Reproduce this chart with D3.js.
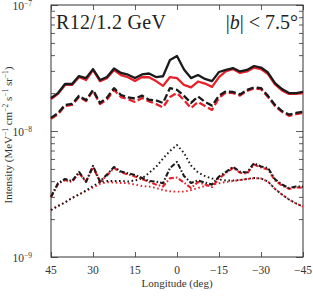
<!DOCTYPE html>
<html>
<head>
<meta charset="utf-8">
<script src="https://cdn.jsdelivr.net/npm/d3@7"></script>
<style>
  body { margin: 0; background: #fff; }
  svg { display: block; font-family: "Liberation Serif", "DejaVu Serif", serif; }
</style>
</head>
<body>
<svg id="chart" width="313" height="297"></svg>
<script>
// longitudes (deg), 2.5 deg steps from 45 to -45
const longitudes = d3.range(0, 37).map(i => 45 - i * 2.5);

// intensities in units of 1e-9 MeV^-1 cm^-2 s^-1 sr^-1
const solidBlack = [18.3, 20.0, 23.6, 23.6, 27.3, 26.3, 31.0, 25.4, 26.8, 31.3, 28.9, 28.0, 26.3, 28.1, 28.6, 26.8, 27.2, 36.6, 39.4, 30.8, 26.3, 27.8, 25.9, 24.9, 29.4, 30.6, 31.6, 29.7, 30.5, 32.8, 31.9, 29.1, 24.0, 21.5, 20.0, 20.0, 20.4];
const solidRed = [17.9, 19.7, 23.2, 23.2, 26.8, 25.4, 30.5, 24.9, 26.3, 30.5, 27.8, 26.7, 24.9, 26.8, 26.7, 24.9, 22.8, 26.8, 26.3, 23.2, 22.2, 24.7, 23.8, 22.4, 26.8, 29.9, 31.0, 28.9, 29.7, 31.9, 31.0, 28.3, 23.4, 21.0, 19.7, 19.7, 20.0];
const dashedBlack = [12.7, 13.9, 16.1, 16.4, 19.0, 17.6, 21.2, 16.7, 18.4, 21.9, 19.3, 18.5, 18.1, 19.1, 17.7, 17.5, 16.7, 21.9, 21.2, 19.0, 16.7, 18.8, 17.0, 15.9, 19.1, 20.7, 20.4, 19.5, 21.2, 22.2, 21.9, 19.0, 16.1, 14.4, 13.5, 13.9, 14.2];
const dashedRed = [12.5, 13.6, 15.8, 16.1, 18.6, 17.3, 20.8, 16.4, 17.8, 21.2, 18.6, 17.9, 17.0, 18.3, 17.2, 16.4, 15.4, 18.6, 20.0, 17.6, 15.2, 17.0, 15.8, 14.7, 18.3, 20.2, 20.0, 19.1, 20.8, 21.7, 21.5, 18.6, 15.8, 14.2, 13.2, 13.6, 13.9];
const dashDotBlack = [3.01, 3.85, 4.16, 4.01, 4.73, 3.97, 5.28, 3.97, 4.52, 5.18, 4.77, 4.61, 4.48, 4.24, 4.01, 3.96, 3.85, 5.09, 5.68, 4.39, 3.87, 4.05, 3.90, 3.76, 4.35, 4.73, 5.18, 4.75, 4.69, 5.54, 5.23, 5.09, 4.14, 3.76, 3.53, 3.63, 3.62];
const dashDotRed = [2.99, 3.80, 4.08, 3.94, 4.64, 3.94, 5.18, 3.94, 4.44, 5.09, 4.69, 4.52, 4.35, 4.16, 3.94, 3.76, 3.63, 4.22, 4.27, 3.90, 3.53, 3.94, 3.76, 3.59, 4.20, 4.64, 5.09, 4.67, 4.60, 5.42, 5.13, 4.95, 4.05, 3.69, 3.47, 3.56, 3.55];
const dottedBlack = [2.36, 2.54, 2.71, 2.94, 3.13, 3.37, 3.66, 3.94, 4.01, 4.01, 4.01, 3.97, 4.05, 4.20, 4.64, 5.18, 6.05, 6.94, 7.74, 6.69, 5.32, 4.69, 4.39, 4.20, 4.12, 4.05, 4.05, 4.08, 4.16, 4.24, 4.20, 3.97, 3.47, 3.13, 2.86, 2.66, 2.51];
const dottedRed = [2.36, 2.54, 2.71, 2.94, 3.13, 3.34, 3.56, 3.80, 3.92, 3.90, 3.87, 3.85, 3.76, 3.66, 3.62, 3.53, 3.40, 3.32, 3.30, 3.30, 3.40, 3.53, 3.66, 3.76, 3.85, 3.94, 4.01, 4.08, 4.16, 4.22, 4.20, 3.97, 3.47, 3.13, 2.86, 2.66, 2.51];

const xTicks = [45, 30, 15, 0, -15, -30, -45];
const yTicks = [1e-9, 1e-8, 1e-7];
const yTickExp = ["−9", "−8", "−7"];

const svg = d3.select("#chart");
const plotLeft = 51, plotRight = 303, plotTop = 5, plotBottom = 257;

const x = d3.scaleLinear().domain([45, -45]).range([plotLeft, plotRight]);
const y = d3.scaleLog().domain([1e-9, 1e-7]).range([plotBottom, plotTop]);

// minor ticks for log axis
let minor = [];
[1e-9, 1e-8].forEach(d => { for (let k = 2; k <= 9; k++) minor.push(d * k); });

const frame = svg.append("g");

// y axes (left and right), ticks inward
frame.append("g")
    .attr("transform", `translate(${plotLeft},0)`)
    .call(d3.axisRight(y).tickValues(yTicks).tickSize(7).tickFormat(""))
    .call(g => g.select(".domain").remove());
frame.append("g")
    .attr("transform", `translate(${plotLeft},0)`)
    .call(d3.axisRight(y).tickValues(minor).tickSize(4).tickFormat(""))
    .call(g => g.select(".domain").remove());
frame.append("g")
    .attr("transform", `translate(${plotRight},0)`)
    .call(d3.axisLeft(y).tickValues(yTicks).tickSize(7).tickFormat(""))
    .call(g => g.select(".domain").remove());
frame.append("g")
    .attr("transform", `translate(${plotRight},0)`)
    .call(d3.axisLeft(y).tickValues(minor).tickSize(4).tickFormat(""))
    .call(g => g.select(".domain").remove());

// x axes (bottom and top), ticks inward
frame.append("g")
    .attr("transform", `translate(0,${plotBottom})`)
    .call(d3.axisTop(x).tickValues(xTicks).tickSize(5).tickFormat(""))
    .call(g => g.select(".domain").remove());
frame.append("g")
    .attr("transform", `translate(0,${plotTop})`)
    .call(d3.axisBottom(x).tickValues(xTicks).tickSize(5).tickFormat(""))
    .call(g => g.select(".domain").remove());

frame.selectAll("line").attr("stroke", "#333").attr("stroke-width", 0.8);

frame.append("rect")
    .attr("x", plotLeft).attr("y", plotTop)
    .attr("width", plotRight - plotLeft).attr("height", plotBottom - plotTop)
    .attr("fill", "none").attr("stroke", "#333").attr("stroke-width", 1);

// tick labels
svg.append("g").selectAll("text")
    .data(xTicks)
    .enter()
    .append("text")
    .attr("x", d => x(d))
    .attr("y", plotBottom + 17)
    .attr("text-anchor", "middle")
    .attr("font-size", 11.5)
    .attr("fill", "#333")
    .text(d => d < 0 ? "−" + Math.abs(d) : d);

let yl = svg.append("g").selectAll("text")
    .data(yTicks)
    .enter()
    .append("text")
    .attr("x", plotLeft - 19)
    .attr("y", d => y(d) + 5)
    .attr("text-anchor", "end")
    .attr("font-size", 11.5)
    .attr("fill", "#333");
yl.append("tspan").text("10");
yl.append("tspan").attr("dy", -4).attr("font-size", 7.5).text((d, i) => yTickExp[i]);

// axis titles
svg.append("text")
    .attr("x", (plotLeft + plotRight) / 2)
    .attr("y", 287)
    .attr("text-anchor", "middle")
    .attr("font-size", 11)
    .attr("fill", "#333")
    .text("Longitude (deg)");

let ylab = svg.append("text")
    .attr("transform", `translate(12,${(plotTop + plotBottom) / 2 + 4}) rotate(-90)`)
    .attr("text-anchor", "middle")
    .attr("font-size", 11)
    .attr("fill", "#333");
ylab.append("tspan").text("Intensity (MeV");
ylab.append("tspan").attr("dy", -4).attr("font-size", 7.5).text("−1");
ylab.append("tspan").attr("dy", 4).text(" cm");
ylab.append("tspan").attr("dy", -4).attr("font-size", 7.5).text("−2");
ylab.append("tspan").attr("dy", 4).text(" s");
ylab.append("tspan").attr("dy", -4).attr("font-size", 7.5).text("−1");
ylab.append("tspan").attr("dy", 4).text(" sr");
ylab.append("tspan").attr("dy", -4).attr("font-size", 7.5).text("−1");
ylab.append("tspan").attr("dy", 4).text(")");

// annotations
svg.append("text")
    .attr("x", plotLeft + 5)
    .attr("y", 29)
    .attr("font-size", 20)
    .attr("fill", "#222")
    .attr("textLength", 110)
    .attr("lengthAdjust", "spacing")
    .text("R12/1.2 GeV");

let ann = svg.append("text")
    .attr("x", plotRight - 5)
    .attr("y", 29)
    .attr("text-anchor", "end")
    .attr("font-size", 20)
    .attr("fill", "#222");
ann.append("tspan").text("|");
ann.append("tspan").attr("font-style", "italic").text("b");
ann.append("tspan").text("| < 7.5°");

// curves
const line = d3.line()
    .x((d, i) => x(longitudes[i]))
    .y(d => y(d * 1e-9));

const series = [
    { data: dottedRed, color: "#e8202a", width: 1.9, dash: "1.6,2.6" },
    { data: dottedBlack, color: "#1a1a1a", width: 1.9, dash: "1.6,2.6" },
    { data: dashDotRed, color: "#e8202a", width: 2.1, dash: "5,2,1.5,2" },
    { data: dashDotBlack, color: "#1a1a1a", width: 2.1, dash: "5,2,1.5,2" },
    { data: dashedRed, color: "#e8202a", width: 2.3, dash: "7,3" },
    { data: dashedBlack, color: "#1a1a1a", width: 2.3, dash: "7,3" },
    { data: solidRed, color: "#e8202a", width: 2.3, dash: null },
    { data: solidBlack, color: "#1a1a1a", width: 2.3, dash: null }
];

svg.append("g").selectAll("path")
    .data(series)
    .enter()
    .append("path")
    .attr("d", d => line(d.data))
    .attr("fill", "none")
    .attr("stroke", d => d.color)
    .attr("stroke-width", d => d.width)
    .attr("stroke-dasharray", d => d.dash)
    .attr("stroke-linejoin", "round");
</script>
</body>
</html>
